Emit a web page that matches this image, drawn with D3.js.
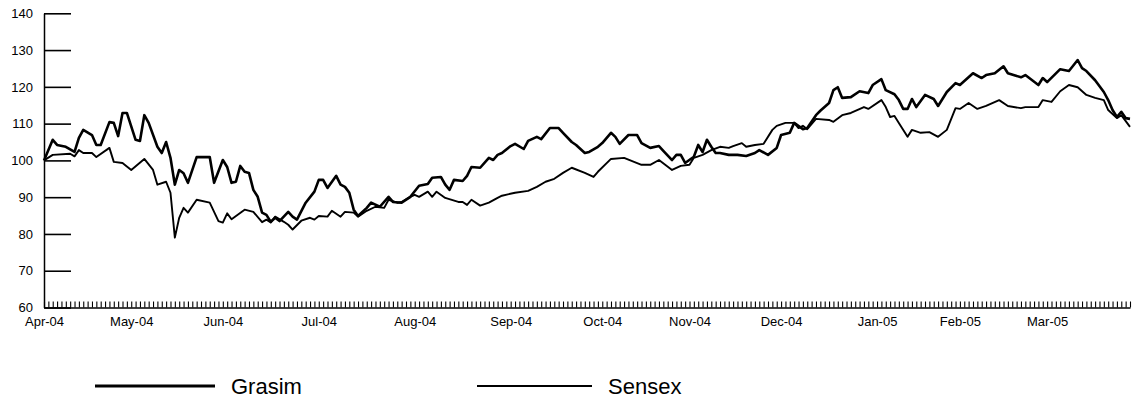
<!DOCTYPE html>
<html>
<head>
<meta charset="utf-8">
<script src="https://cdn.jsdelivr.net/npm/d3@7"></script>
<style>
  body { margin: 0; background: #fff; }
  svg { display: block; font-family: "Liberation Sans", Arial, sans-serif; }
</style>
</head>
<body>
<svg id="chart"></svg>
<script>
// trading-day index (0 = 1 Apr 2004) and indexed price, base 100
const grasim = [
  [0,100],[2,105.6],[3,104.2],[5,103.7],[7,102.3],[8,106.1],[9,108.3],[11,106.9],[12,104.2],[13,104.2],
  [15,110.4],[16,110.2],[17,106.6],[18,112.9],[19,112.9],[21,105.6],[22,105.3],[23,112.3],[24,110.2],
  [26,103.7],[27,102.0],[28,105.0],[29,100.7],[30,93.4],[31,97.4],[32,96.5],[33,93.9],[35,100.9],
  [38,100.9],[39,93.9],[41,100.1],[42,98.2],[43,93.9],[44,94.2],[45,98.5],[46,96.9],[47,96.6],
  [48,92.0],[49,90.1],[50,85.8],[51,85.2],[52,83.3],[53,84.4],[54,83.5],[56,86.0],[57,84.7],[58,83.9],
  [60,88.5],[62,91.5],[63,94.7],[64,94.7],[65,92.5],[67,95.8],[68,93.4],[69,92.8],[70,91.2],[71,86.6],
  [72,84.9],[74,87.1],[75,88.5],[77,87.4],[79,90.1],[80,88.7],[82,88.5],[84,90.1],[86,93.1],[88,93.6],
  [89,95.3],[91,95.5],[92,93.4],[93,92.0],[94,94.7],[96,94.4],[97,95.8],[98,98.2],[100,98.0],
  [102,100.7],[103,100.1],[104,101.5],[105,102.0],[107,103.9],[108,104.5],[110,103.1],[111,105.3],
  [113,106.4],[114,105.8],[116,108.8],[118,108.8],[119,107.5],[121,105.0],[122,104.2],[124,102.0],
  [125,102.3],[127,103.7],[128,104.7],[130,107.5],[131,106.4],[132,104.5],[134,106.9],[136,106.9],
  [137,104.7],[139,103.4],[141,103.9],[142,102.6],[144,100.1],[145,101.5],[146,101.5],[147,99.3],
  [149,101.0],[150,104.2],[151,102.3],[152,105.6],[153,103.7],[154,102.0],[155,102.0],[157,101.5],
  [159,101.5],[161,101.2],[163,102.0],[164,102.8],[166,101.5],[168,103.4],[169,106.9],[171,107.5],
  [172,110.2],[174,108.5],[175,108.8],[177,112.3],[178,113.5],[180,115.6],[181,119.1],[182,119.9],
  [183,117.0],[185,117.2],[187,118.8],[189,118.3],[190,120.5],[192,122.1],[193,119.1],[195,118.0],
  [196,116.4],[197,114.0],[198,114.0],[199,116.7],[200,114.5],[202,117.8],[204,116.7],[205,114.8],
  [207,118.6],[209,121.0],[210,120.5],[213,123.7],[215,122.4],[216,123.2],[218,123.7],[220,125.6],
  [221,123.7],[224,122.6],[225,123.2],[228,120.5],[229,122.4],[230,121.3],[233,124.8],[235,124.3],
  [237,127.3],[238,125.1],[239,124.3],[241,121.8],[243,118.6],[244,116.4],[245,113.7],[246,111.8],
  [247,113.2],[248,111.5],[249,111.3]
];

const sensex = [
  [0,100],[2,101.5],[6,101.8],[7,101.1],[8,102.8],[9,102.0],[11,102.0],[12,100.9],[15,103.4],[16,99.6],
  [18,99.3],[20,97.4],[23,100.4],[25,97.4],[26,93.4],[28,94.2],[29,91.2],[30,79.0],[31,84.4],[32,87.1],
  [33,85.8],[35,89.3],[38,88.5],[40,83.5],[41,83.1],[42,85.6],[43,84.0],[46,86.6],[48,86.0],[50,83.2],
  [51,83.9],[52,83.1],[53,84.7],[55,83.3],[56,82.5],[57,81.2],[59,83.6],[61,84.4],[62,83.9],[63,84.9],
  [65,84.7],[66,86.3],[68,84.7],[69,86.0],[71,85.8],[72,84.7],[74,86.3],[76,87.4],[78,87.1],[79,89.3],
  [81,88.5],[82,88.7],[84,90.1],[85,90.6],[86,90.1],[88,91.5],[89,90.1],[90,91.5],[92,89.8],[95,88.7],
  [96,88.7],[97,87.9],[98,89.3],[100,87.7],[102,88.5],[104,89.8],[105,90.4],[108,91.2],[111,91.7],
  [113,92.8],[115,94.2],[117,95.0],[119,96.6],[121,98.0],[124,96.6],[126,95.5],[127,96.9],[130,100.4],
  [133,100.7],[137,98.8],[139,98.8],[141,100.1],[144,97.4],[146,98.5],[148,98.8],[149,100.7],
  [151,101.5],[153,102.8],[155,103.7],[157,103.4],[158,103.9],[160,104.7],[161,103.7],[163,104.2],
  [165,104.5],[167,108.3],[168,109.4],[170,110.2],[172,110.2],[173,108.8],[174,109.4],[175,108.5],
  [177,111.3],[180,111.0],[181,110.5],[183,112.3],[185,112.9],[188,114.5],[189,114.0],[192,116.4],
  [193,114.5],[194,111.8],[195,112.1],[196,110.2],[198,106.4],[199,108.3],[201,107.5],[203,107.7],
  [205,106.4],[207,108.3],[209,114.2],[210,114.0],[212,115.6],[214,114.0],[216,114.8],[219,116.4],
  [221,114.8],[224,114.2],[225,114.5],[228,114.5],[229,116.4],[231,115.9],[233,118.8],[235,120.5],
  [237,119.9],[239,117.8],[241,117.0],[243,116.4],[244,113.7],[246,111.5],[247,112.3],[249,109.1]
];

const dayCount = 250;
const monthDays = [0, 20, 41, 63, 85, 107, 128, 148, 169, 191, 210, 230];
const monthLabels = ["Apr-04", "May-04", "Jun-04", "Jul-04", "Aug-04", "Sep-04",
                     "Oct-04", "Nov-04", "Dec-04", "Jan-05", "Feb-05", "Mar-05"];
const yTicks = [60, 70, 80, 90, 100, 110, 120, 130, 140];
const seriesNames = ["Grasim", "Sensex"];

const width = 1133, height = 407;

const svg = d3.select("#chart")
  .attr("width", width)
  .attr("height", height);

const xScale = d3.scaleLinear()
  .domain([0, dayCount - 1])
  .range([44, 1130]);

const yScale = d3.scaleLinear()
  .domain([60, 140])
  .range([307.5, 13.3]);

// y axis, ticks pointing into the plot
const yAxis = svg.append("g")
  .attr("transform", `translate(${xScale(0)},0)`)
  .call(d3.axisLeft(yScale).tickValues(yTicks).tickSize(-27).tickSizeOuter(0).tickPadding(11));
yAxis.select(".domain").attr("stroke", "#000").attr("stroke-width", 1.5);
yAxis.selectAll(".tick line").attr("stroke", "#000").attr("stroke-width", 1.6);
yAxis.selectAll(".tick text").attr("font-size", 13).attr("fill", "#000");

// x axis: one little tick per trading day
const xAxis = svg.append("g")
  .attr("transform", `translate(0,${yScale(60)})`)
  .call(d3.axisBottom(xScale).tickValues(d3.range(dayCount)).tickSize(-6).tickSizeOuter(0).tickFormat(""));
xAxis.select(".domain").attr("stroke", "#000").attr("stroke-width", 1.5);
xAxis.selectAll(".tick line").attr("stroke", "#000").attr("stroke-width", 1.1);

// month labels
const monthAxis = svg.append("g")
  .attr("transform", `translate(0,${yScale(60)})`)
  .call(d3.axisBottom(xScale).tickValues(monthDays).tickSize(0).tickPadding(9)
    .tickFormat((d, i) => monthLabels[i]));
monthAxis.select(".domain").remove();
monthAxis.selectAll(".tick text").attr("font-size", 13).attr("fill", "#000");

const line = d3.line()
  .x(d => xScale(d[0]))
  .y(d => yScale(d[1]));

svg.append("path")
  .datum(sensex)
  .attr("fill", "none")
  .attr("stroke", "#000")
  .attr("stroke-width", 1.9)
  .attr("stroke-linejoin", "round")
  .attr("d", line);

svg.append("path")
  .datum(grasim)
  .attr("fill", "none")
  .attr("stroke", "#000")
  .attr("stroke-width", 2.6)
  .attr("stroke-linejoin", "round")
  .attr("d", line);

//---legend---
const legendData = [
  { name: seriesNames[0], x: 95, len: 120, w: 2.8 },
  { name: seriesNames[1], x: 477, len: 115, w: 1.8 }
];

const legendItems = svg.selectAll(".legend-item")
  .data(legendData)
  .join("g")
  .attr("class", "legend-item")
  .attr("transform", d => `translate(${d.x}, 386)`);

legendItems.append("line")
  .attr("x1", 0)
  .attr("x2", d => d.len)
  .attr("stroke", "#000")
  .attr("stroke-width", d => d.w);

legendItems.append("text")
  .attr("x", d => d.len + 16)
  .attr("y", 8)
  .attr("font-size", 22)
  .text(d => d.name);
</script>
</body>
</html>
